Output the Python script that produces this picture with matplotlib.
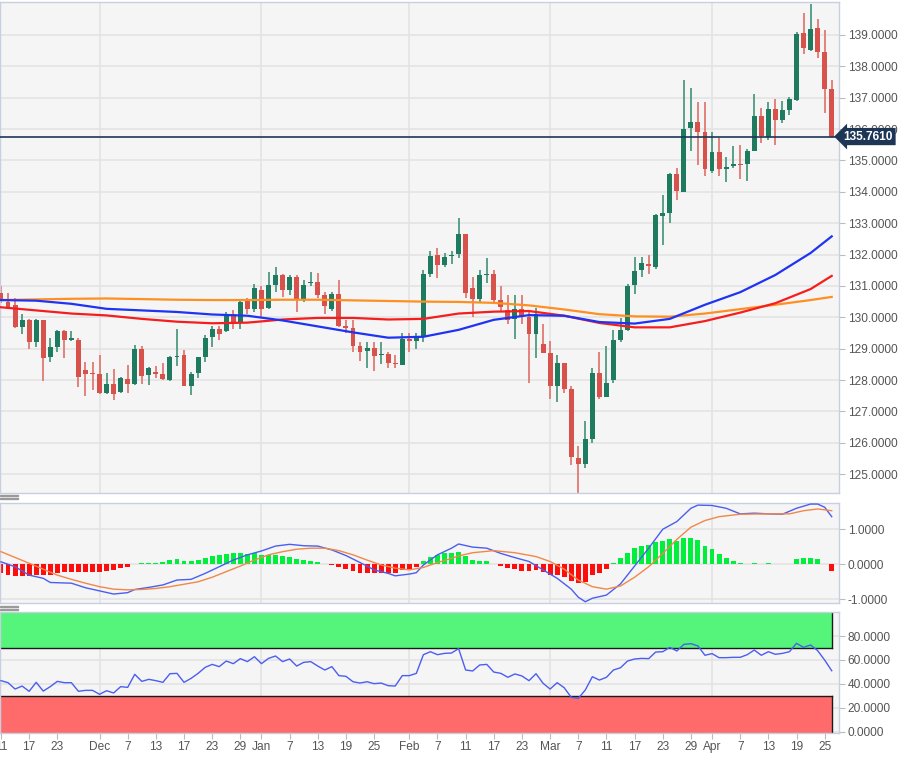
import matplotlib
matplotlib.use('Agg')
import matplotlib.pyplot as plt
import matplotlib.transforms as mtransforms
from matplotlib.patches import Rectangle
import numpy as np
import pandas as pd

plt.rcParams['font.family'] = ['Liberation Sans', 'DejaVu Sans']

# daily candles, EUR/JPY, 11 Nov 2021 -> 26 Apr 2022
dates = pd.bdate_range('2021-11-11', '2022-04-26')

opens = [130.76, 130.49, 130.39, 129.70, 129.91, 129.22, 129.91, 128.74, 129.06, 129.57,
         129.29, 129.29, 128.31, 128.21, 128.19, 127.59, 127.87, 127.62, 128.03, 127.87,
         128.98, 128.15, 128.27, 128.18, 127.99, 128.74, 128.79, 127.81, 128.21, 128.74,
         129.36, 129.64, 129.56, 130.12, 129.86, 130.55, 130.28, 130.87, 130.30, 131.02,
         131.34, 130.87, 131.29, 130.57, 131.08, 131.14, 130.71, 130.25, 130.73, 129.72,
         129.67, 129.08, 128.93, 129.01, 128.80, 128.82, 128.54, 128.47, 129.30, 129.25,
         129.38, 131.38, 131.98, 131.67, 131.96, 132.01, 132.65, 130.92, 130.57, 131.34,
         131.38, 130.55, 130.23, 129.96, 130.25, 130.02, 129.46, 129.15, 128.87, 127.81,
         128.53, 127.70, 125.52, 125.31, 126.13, 128.21, 127.47, 128.00, 129.28, 129.59,
         131.03, 131.50, 131.69, 131.60, 133.24, 133.34, 134.57, 134.00, 136.02, 136.22,
         135.92, 134.67, 135.28, 134.73, 134.83, 134.88, 134.88, 135.30, 136.40, 135.76,
         136.64, 136.29, 136.61, 136.93, 139.05, 138.52, 139.21, 138.47, 137.27]
highs = [131.00, 130.78, 130.60, 130.12, 129.96, 129.96, 129.93, 129.33, 129.59, 129.60,
         129.56, 129.33, 128.56, 128.58, 128.79, 128.21, 128.34, 128.10, 128.47, 129.11,
         129.08, 128.42, 128.44, 128.55, 128.76, 129.62, 128.97, 128.26, 128.74, 129.43,
         129.72, 129.72, 130.17, 130.23, 130.55, 130.60, 131.05, 130.99, 131.45, 131.61,
         131.39, 131.34, 131.34, 131.20, 131.45, 131.40, 130.80, 130.80, 131.20, 129.90,
         129.90, 129.20, 129.20, 129.20, 129.20, 128.90, 128.80, 129.50, 129.50, 129.50,
         131.50, 132.10, 132.20, 132.05, 132.10, 133.15, 132.65, 131.30, 131.50, 131.90,
         131.50, 131.00, 130.70, 130.70, 130.70, 130.20, 130.30, 129.78, 129.25, 128.80,
         128.55, 127.80, 125.90, 126.70, 128.40, 128.90, 129.10, 129.60, 129.97, 131.05,
         131.92, 131.93, 131.99, 133.30, 133.90, 134.60, 134.75, 137.55, 137.32, 136.87,
         136.86, 135.90, 135.70, 135.10, 135.47, 135.50, 135.35, 137.13, 136.67, 136.85,
         136.95, 136.90, 137.02, 139.10, 139.70, 140.00, 139.50, 139.15, 137.57]
lows = [130.45, 130.25, 129.65, 129.48, 129.00, 129.06, 127.96, 128.58, 128.90, 128.69,
        129.25, 127.78, 127.49, 127.68, 127.57, 127.55, 127.38, 127.59, 127.59, 127.84,
        127.89, 127.84, 128.05, 128.00, 127.97, 128.44, 127.80, 127.52, 128.05, 128.58,
        129.06, 129.29, 129.54, 129.64, 129.64, 130.12, 130.17, 130.01, 130.25, 130.81,
        130.65, 130.71, 130.17, 130.50, 131.00, 130.60, 130.10, 130.20, 129.70, 129.50,
        128.90, 128.60, 128.40, 128.30, 128.50, 128.40, 128.40, 128.47, 128.90, 129.00,
        129.20, 131.30, 131.25, 131.60, 131.70, 131.90, 130.60, 130.00, 130.50, 131.10,
        130.50, 130.20, 129.80, 129.30, 129.80, 127.90, 128.70, 128.85, 127.40, 127.30,
        127.60, 125.30, 124.30, 125.20, 126.00, 127.40, 127.47, 127.90, 129.20, 129.55,
        130.75, 131.30, 131.38, 131.55, 132.30, 133.00, 133.75, 133.98, 135.30, 134.86,
        134.50, 134.60, 134.50, 134.30, 134.75, 134.40, 134.35, 135.30, 135.55, 135.65,
        135.50, 136.20, 136.45, 136.88, 138.40, 138.48, 138.25, 136.50, 135.70]
closes = [130.55, 130.33, 129.70, 129.91, 129.22, 129.91, 128.69, 129.06, 129.57, 129.27,
          129.31, 128.10, 128.19, 128.20, 127.59, 127.87, 127.55, 128.05, 127.89, 128.98,
          128.12, 128.37, 128.19, 128.02, 128.74, 128.78, 127.81, 128.19, 128.72, 129.35,
          129.64, 129.48, 130.12, 129.86, 130.49, 130.28, 130.92, 130.28, 131.02, 131.34,
          130.87, 131.29, 130.57, 131.03, 131.14, 130.71, 130.36, 130.73, 129.72, 129.67,
          129.08, 128.89, 129.03, 128.76, 128.82, 128.53, 128.50, 129.30, 129.25, 129.40,
          131.38, 131.95, 131.67, 131.93, 131.99, 132.65, 130.76, 130.57, 131.34, 131.38,
          130.55, 130.34, 129.93, 130.25, 130.00, 129.46, 130.12, 128.87, 127.81, 128.55,
          127.73, 125.56, 125.31, 126.13, 128.21, 127.47, 127.92, 129.28, 129.59, 131.00,
          131.48, 131.72, 131.62, 133.26, 133.31, 134.57, 134.03, 136.00, 136.24, 135.92,
          134.72, 135.28, 134.72, 134.80, 134.88, 134.85, 135.30, 136.42, 135.78, 136.64,
          136.29, 136.61, 136.96, 139.02, 138.57, 139.18, 138.47, 137.27, 135.76]
last_price = 135.761

# moving averages, read every 5 sessions
ma_idx = [0, 5, 10, 15, 20, 25, 30, 35, 40, 45, 50, 55, 60, 65, 70, 75, 80, 85, 90, 95,
          100, 105, 110, 115, 118]
ma_blue = [130.55, 130.53, 130.43, 130.27, 130.22, 130.17, 130.09, 130.05, 129.90, 129.71,
           129.52, 129.35, 129.38, 129.60, 129.92, 130.07, 130.05, 129.85, 129.80, 129.95,
           130.40, 130.80, 131.35, 132.05, 132.58]
ma_red = [130.32, 130.22, 130.12, 130.06, 129.95, 129.86, 129.81, 129.83, 129.93, 129.98,
          129.98, 129.93, 129.95, 130.12, 130.18, 130.20, 130.05, 129.82, 129.68, 129.68,
          129.88, 130.15, 130.45, 130.90, 131.32]
ma_orange = [130.55, 130.57, 130.59, 130.60, 130.58, 130.56, 130.55, 130.55, 130.56, 130.56,
             130.54, 130.52, 130.50, 130.49, 130.46, 130.38, 130.25, 130.10, 130.03, 130.02,
             130.12, 130.26, 130.40, 130.55, 130.65]

# MACD
macd_idx = [0, 2, 4, 6, 7, 10, 12, 14, 16, 18, 19, 21, 23, 25, 27, 29, 31, 33, 35, 37,
            39, 41, 43, 45, 47, 49, 51, 53, 55, 56, 58, 59, 60, 62, 64, 65, 67, 69, 71, 73,
            75, 77, 79, 81, 82, 83, 84, 86, 88, 90, 92, 94, 96, 98, 99, 101, 103, 105, 107,
            109, 111, 113, 115, 116, 117, 118]
macd_line = [0.07, -0.07, -0.31, -0.40, -0.52, -0.54, -0.67, -0.76, -0.85, -0.81, -0.72,
             -0.66, -0.59, -0.45, -0.43, -0.26, -0.07, 0.12, 0.27, 0.38, 0.52, 0.57, 0.53,
             0.52, 0.41, 0.25, 0.05, -0.16, -0.26, -0.33, -0.28, -0.24, -0.02, 0.27, 0.46,
             0.58, 0.49, 0.46, 0.31, 0.19, 0.08, -0.16, -0.40, -0.71, -0.94, -1.07, -0.97,
             -0.88, -0.56, -0.05, 0.46, 1.00, 1.22, 1.60, 1.69, 1.68, 1.60, 1.44, 1.46, 1.44,
             1.43, 1.60, 1.72, 1.72, 1.63, 1.36]
signal_idx = [0, 4, 6, 8, 10, 12, 14, 16, 18, 20, 22, 24, 26, 28, 30, 32, 34, 36, 38, 40,
              42, 44, 46, 48, 50, 52, 54, 56, 58, 60, 62, 64, 65, 67, 70, 73, 76, 78, 80, 82,
              84, 86, 88, 90, 92, 94, 96, 98, 100, 102, 105, 109, 112, 114, 116, 118]
signal_line = [0.36, 0.03, -0.14, -0.31, -0.43, -0.54, -0.64, -0.71, -0.73, -0.72, -0.69,
               -0.64, -0.57, -0.50, -0.37, -0.21, -0.05, 0.12, 0.27, 0.36, 0.43, 0.46, 0.46,
               0.39, 0.27, 0.12, -0.02, -0.11, -0.16, -0.09, 0.05, 0.17, 0.24, 0.33, 0.39,
               0.33, 0.22, 0.08, -0.14, -0.45, -0.64, -0.71, -0.62, -0.37, -0.07, 0.31, 0.71,
               1.06, 1.25, 1.36, 1.43, 1.44, 1.44, 1.53, 1.58, 1.53]
macd_hist = [-0.26, -0.30, -0.33, -0.33, -0.33, -0.30, -0.30, -0.30, -0.24, -0.21,
             -0.21, -0.21, -0.21, -0.21, -0.21, -0.18, -0.16, -0.11, -0.09, 0.02,
             0.03, 0.03, 0.05, 0.06, 0.12, 0.15, 0.10, 0.10, 0.12, 0.19,
             0.24, 0.26, 0.29, 0.31, 0.31, 0.30, 0.31, 0.27, 0.27, 0.27,
             0.24, 0.22, 0.15, 0.12, 0.10, 0.06, 0.01, -0.02, -0.09, -0.14,
             -0.19, -0.24, -0.26, -0.26, -0.26, -0.26, -0.24, -0.16, -0.13, -0.07,
             0.10, 0.22, 0.27, 0.31, 0.33, 0.36, 0.25, 0.12, 0.10, 0.08,
             0.01, -0.04, -0.10, -0.14, -0.18, -0.19, -0.16, -0.21, -0.30, -0.30,
             -0.37, -0.47, -0.54, -0.50, -0.30, -0.24, -0.13, 0.05, 0.17, 0.33,
             0.46, 0.52, 0.55, 0.63, 0.67, 0.71, 0.67, 0.74, 0.74, 0.69,
             0.52, 0.43, 0.30, 0.18, 0.10, 0.05, 0.02, 0.04, 0.01, 0.03,
             0.01, 0.01, 0.005, 0.14, 0.17, 0.19, 0.14, 0.01, -0.18]

# RSI
rsi = [42.7, 41.0, 35.7, 38.2, 33.8, 41.3, 34.0, 37.7, 42.1, 41.0,
       41.0, 33.8, 34.6, 34.6, 31.3, 34.3, 32.4, 37.7, 37.1, 48.0,
       42.1, 43.8, 42.7, 41.3, 48.5, 48.8, 41.3, 44.6, 48.8, 53.8,
       56.3, 54.4, 59.1, 56.9, 61.1, 58.6, 62.7, 56.9, 61.3, 63.3,
       58.6, 60.8, 54.9, 58.0, 58.6, 54.9, 51.6, 54.4, 46.9, 46.3,
       41.8, 40.7, 41.8, 40.2, 40.7, 38.5, 38.2, 46.9, 46.9, 48.8,
       64.4, 66.9, 64.4, 65.5, 65.8, 69.5, 51.6, 50.8, 55.8, 56.3,
       49.9, 48.8, 45.5, 48.3, 46.6, 42.7, 48.5, 40.5, 35.7, 41.0,
       36.8, 28.8, 27.9, 34.9, 46.0, 43.2, 45.5, 51.6, 53.5, 59.1,
       60.8, 61.3, 61.1, 66.6, 66.9, 70.5, 67.5, 73.0, 73.6, 71.7,
       63.9, 65.3, 61.9, 61.9, 62.2, 62.2, 64.4, 68.3, 63.9, 66.9,
       64.7, 65.5, 66.9, 73.9, 70.5, 72.5, 67.8, 59.9, 51.0]

tick_days = ['2021-11-11', '2021-11-17', '2021-11-23', '2021-12-01', '2021-12-07',
             '2021-12-13', '2021-12-17', '2021-12-23', '2021-12-29', '2022-01-03',
             '2022-01-07', '2022-01-13', '2022-01-19', '2022-01-25', '2022-02-01',
             '2022-02-07', '2022-02-11', '2022-02-17', '2022-02-23', '2022-03-01',
             '2022-03-07', '2022-03-11', '2022-03-17', '2022-03-23', '2022-03-29',
             '2022-04-01', '2022-04-07', '2022-04-13', '2022-04-19', '2022-04-25']
tick_labels = ['11', '17', '23', 'Dec', '7', '13', '17', '23', '29', 'Jan',
               '7', '13', '19', '25', 'Feb', '7', '11', '17', '23', 'Mar',
               '7', '11', '17', '23', '29', 'Apr', '7', '13', '19', '25']

GREEN = '#1e7b5f'
RED = '#d6524a'
BG = '#f5f5f5'
GRID = '#e3e3e3'
SPINE = '#c9cee0'
TXT = '#555555'

n = len(closes)
idx = np.arange(n)
o, h, l, c = map(np.array, (opens, highs, lows, closes))
tick_pos = [dates.get_loc(pd.Timestamp(d)) for d in tick_days]
month_pos = [p for p, lab in zip(tick_pos, tick_labels) if lab.isalpha()]
xlim = (-0.14, 119.08)

fig = plt.figure(figsize=(9.12, 7.6), dpi=100, facecolor='white')
ax1 = fig.add_axes([0, 0.3513, 0.9203, 0.6461])
ax2 = fig.add_axes([0, 0.2062, 0.9203, 0.1324])
ax3 = fig.add_axes([0, 0.0359, 0.9203, 0.1592])

for ax in (ax1, ax2, ax3):
    ax.set_facecolor(BG)
    ax.set_xlim(*xlim)
    for s in ax.spines.values():
        s.set_color(SPINE)
        s.set_linewidth(1.0)
    ax.yaxis.tick_right()
    ax.tick_params(axis='y', length=4, color='#bbbbbb', labelsize=8.6,
                   labelcolor=TXT, pad=2)
    ax.grid(axis='y', color=GRID, lw=1.2, zorder=0)
    ax.set_axisbelow(True)
    for p in month_pos:
        ax.axvline(p, color=GRID, lw=1.2, zorder=0.5)
    ax.set_xticks(tick_pos)

ax1.tick_params(axis='x', length=0, labelbottom=False)
ax2.tick_params(axis='x', length=0, labelbottom=False)
ax3.set_xticklabels(tick_labels)
ax3.tick_params(axis='x', length=4, color='#bbbbbb', labelsize=8.6,
                labelcolor=TXT, pad=2)

# candles
up = c >= o
body_col = np.where(up, GREEN, RED)
wick_col = np.where(up, '#4e9a80', '#e27a73')
ax1.vlines(idx, l, h, colors=wick_col, lw=1.3, zorder=2)
ax1.bar(idx, np.maximum(np.abs(c - o), 0.04), bottom=np.minimum(o, c), width=0.7,
        color=body_col, zorder=3)

ax1.plot(ma_idx, ma_orange, color='#ff8f22', lw=1.6, zorder=4)
ax1.plot(ma_idx, ma_red, color='#f51d1d', lw=1.6, zorder=4)
ax1.plot(ma_idx, ma_blue, color='#1f33f2', lw=1.6, zorder=4)

ax1.axhline(last_price, color='#1e3656', lw=1.2, zorder=5)
trans = mtransforms.blended_transform_factory(ax1.transAxes, ax1.transData)
ax1.text(1.005, last_price, f'{last_price:.4f}', transform=trans, ha='left', va='center',
         fontsize=8.6, fontweight='bold', color='white', zorder=6, clip_on=False,
         bbox=dict(boxstyle='larrow,pad=0.22', fc='#1e3656', ec='none'))

ax1.set_ylim(124.40, 140.05)
ax1.set_yticks(np.arange(125, 140))
ax1.set_yticklabels([f'{v:.4f}' for v in np.arange(125, 140)])

# MACD panel
hist = np.array(macd_hist)
ax2.bar(idx, hist, width=0.7, color=np.where(hist >= 0, '#00ee3c', '#ff0d0d'), zorder=2)
ax2.plot(macd_idx, macd_line, color='#4a5ef0', lw=1.0, zorder=3)
ax2.plot(signal_idx, signal_line, color='#f2874a', lw=1.0, zorder=3)
ax2.set_ylim(-1.114, 1.76)
ax2.set_yticks([-1, 0, 1])
ax2.set_yticklabels(['-1.0000', '0.0000', '1.0000'])

# RSI panel
ax3.fill_between([xlim[0], n - 1], 70, 99, color='#54f57a', lw=0, zorder=1)
ax3.fill_between([xlim[0], n - 1], -1, 30, color='#ff6b6b', lw=0, zorder=1)
ax3.plot([xlim[0], n - 1], [70, 70], color='#1a1a1a', lw=1.0, zorder=2)
ax3.plot([xlim[0], n - 1], [30, 30], color='#1a1a1a', lw=1.0, zorder=2)
ax3.plot([n - 1, n - 1], [70, 99], color='#1a1a1a', lw=1.0, zorder=2)
ax3.plot([n - 1, n - 1], [-1, 30], color='#1a1a1a', lw=1.0, zorder=2)
ax3.plot(idx, rsi, color='#4a5ef0', lw=1.0, zorder=3)
ax3.set_ylim(-0.8, 100.3)
ax3.set_yticks([0, 20, 40, 60, 80])
ax3.set_yticklabels([f'{v:.4f}' for v in [0, 20, 40, 60, 80]])

# panel drag handles
for ypix in (496, 499, 607, 610):
    fig.patches.append(Rectangle((0, 1 - ypix / 760), 18 / 912, 1.4 / 760,
                                 transform=fig.transFigure, color='#9a9a9a', zorder=10))

fig.savefig('out.png', dpi=100, facecolor='white')
